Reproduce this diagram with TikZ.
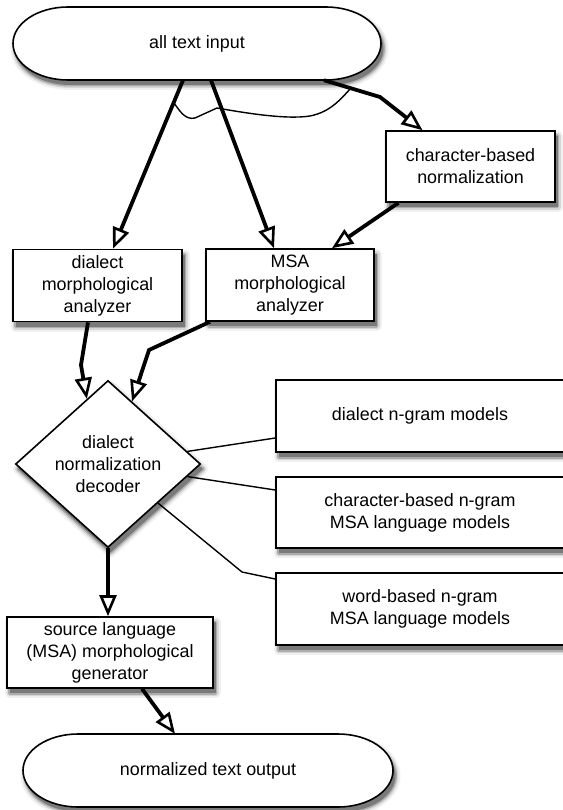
\documentclass[tikz,border=0pt]{standalone}
\usepackage{fontspec}
\setmainfont{Liberation Sans}
\usetikzlibrary{shapes.geometric, arrows.meta, calc}

\tikzset{
  shad1/.style={draw=black!6, fill=black!6, line width=10pt, line join=round},
  shad2/.style={draw=black!16, fill=black!16, line width=6pt, line join=round},
  shad3/.style={draw=black!32, fill=black!32, line width=3pt, line join=round},
  shad4/.style={fill=black!52},
  txt/.style={font={\fontsize{17.9pt}{22pt}\selectfont}, align=center}
}

% soft shadow under a closed path
\newcommand\castshadow[1]{%
  \path[shad1] #1; \path[shad2] #1; \path[shad3] #1; \path[shad4] #1;}

% terminal outline centred at (#1,#2), #3 wide, ends are half ellipses
\newcommand\termpath[3]{%
    (#1-#3/2+55, #2-36.5) -- (#1+#3/2-55, #2-36.5)
    arc[start angle=90, end angle=-90, x radius=55pt, y radius=36.5pt]
    -- (#1-#3/2+55, #2+36.5)
    arc[start angle=270, end angle=90, x radius=55pt, y radius=36.5pt] -- cycle}

\begin{document}
\begin{tikzpicture}[x=1pt, y=-1pt,
          box/.style={rectangle, draw, line width=1.6pt, fill=white, txt,
                      inner sep=0pt, minimum height=72pt},
          term/.style={rectangle, txt, inner sep=0pt, minimum height=73pt},
          decision/.style={diamond, draw, line width=1.6pt, fill=white, txt,
                           inner sep=0pt, minimum width=185pt,
                           minimum height=167pt},
          arr/.style={line width=3.8pt,
                      -{Triangle[open, length=21pt, width=17pt, line width=2.6pt]}},
          link/.style={line width=1.4pt}
        ]
        \useasboundingbox (0,0) rectangle (562,810);

        % shadows first: centre x, centre y, width, height
        \foreach \cx/\cy/\w/\h in {470.5/166.5/169/71, 97.5/285.5/169/72,
                                   290/285/168/72, 420/416/288/72,
                                   420/512.5/288/71, 420/609/288/72,
                                   110/652.5/206/71}
          {\castshadow{(\cx-\w/2+2.5, \cy-\h/2+5) rectangle ++(\w, \h)}}
        \castshadow{(110.5, 385.5) -- (203, 469) -- (110.5, 552.5)
                    -- (18, 469) -- cycle}
        \castshadow{\termpath{199.5}{48.5}{368}}
        \castshadow{\termpath{210.5}{775.5}{370}}

        % terminal outlines
        \path[draw, line width=1.6pt, fill=white] \termpath{197}{43.5}{368};
        \path[draw, line width=1.6pt, fill=white] \termpath{208}{770.5}{370};

        \node[term, minimum width=368pt] (input) at (197, 43.5) {all text input};
        \node[box, minimum width=169pt, minimum height=71pt] (charnorm) at (470.5, 166.5)
              {character-based\\normalization};
        \node[box, minimum width=169pt] (dialma) at (97.5, 285.5)
              {dialect\\morphological\\analyzer};
        \node[box, minimum width=168pt] (msama) at (290, 285)
              {MSA\\morphological\\analyzer};
        \node[decision] (decoder) at (108, 464)
              {dialect\\normalization\\decoder};
        \node[box, minimum width=288pt] (dngram) at (420, 416)
              {dialect n-gram models};
        \node[box, minimum width=288pt, minimum height=71pt] (cngram) at (420, 512.5)
              {character-based n-gram\\MSA language models};
        \node[box, minimum width=288pt] (wngram) at (420, 609)
              {word-based n-gram\\MSA language models};
        \node[box, minimum width=206pt, minimum height=71pt] (srcgen) at (110, 652.5)
              {source language\\(MSA) morphological\\generator};
        \node[term, minimum width=370pt] (output) at (208, 770.5)
              {normalized text output};

        % input to the analyzers
        \coordinate (k1) at (380, 97);
        \draw[arr] ([xshift=-14pt]input.south) -- ([xshift=15.5pt]dialma.north);
        \draw[arr] ([xshift=14pt]input.south) -- ([xshift=-16pt]msama.north);
        \draw[arr] ([xshift=127pt]input.south) -- (k1) -- ([xshift=-48pt]charnorm.north);
        \draw[arr] ([xshift=-72pt]charnorm.south) -- ([xshift=42pt]msama.north);

        % stray wire under the input
        \coordinate (w1) at (174, 103);
        \coordinate (w2) at (351, 88);
        \draw[link] (w1) .. controls (181,113) and (186,120) .. (195,118)
              -- (217,108) .. controls (240,112) and (285,120) .. (310,116)
              .. controls (330,112) and (340,100) .. (w2);

        % analyzers to decoder
        \coordinate (k2) at (81, 365);
        \coordinate (k3) at (149, 350);
        \draw[arr] ([xshift=-9.5pt]dialma.south) -- (k2) -- (decoder.108);
        \draw[arr] ([xshift=-80pt]msama.south) -- (k3) -- (decoder.69);

        % language models
        \coordinate (k4) at (242, 572);
        \draw[link] (decoder.9.5) -- ([yshift=-22pt]dngram.west);
        \draw[link] (decoder.-9.5) -- ([yshift=22.5pt]cngram.west);
        \draw[link] (decoder.-38.5) -- (k4) -- ([yshift=30pt]wngram.west);

        % generation
        \draw[arr] (decoder.south) -- (decoder.south |- srcgen.north);
        \draw[arr] ([xshift=32pt]srcgen.south) -- ([xshift=-33pt]output.north);
      \end{tikzpicture}
\end{document}
